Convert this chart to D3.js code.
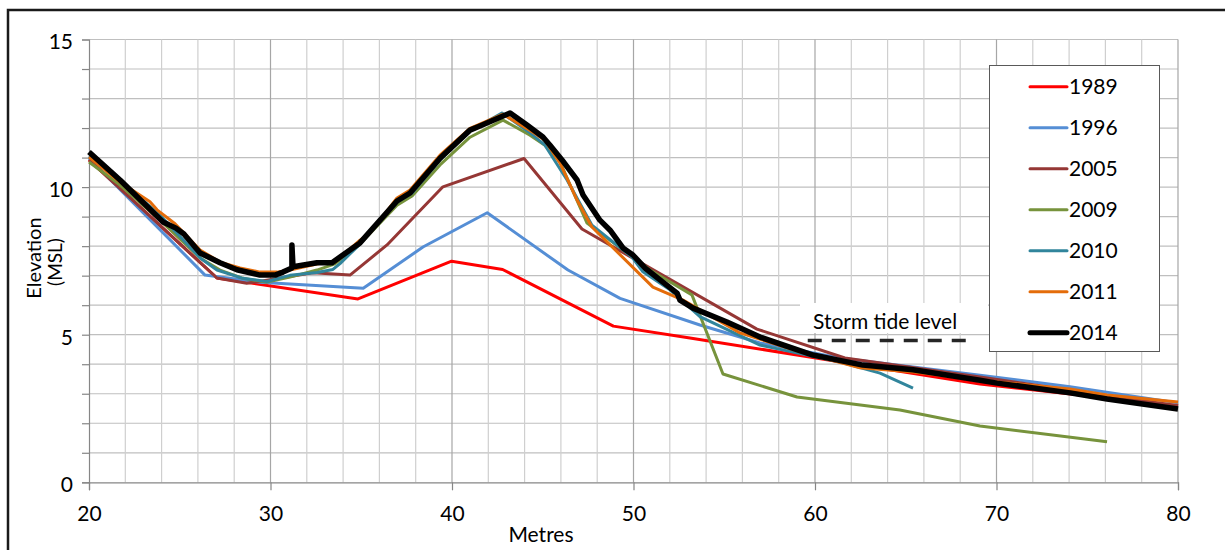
<!DOCTYPE html>
<html>
<head>
<meta charset="utf-8">
<script src="https://cdn.jsdelivr.net/npm/d3@7"></script>
<style>
  body { margin: 0; background: #fff; }
  svg { display: block; font-family: Lato, "Open Sans", sans-serif; }
</style>
</head>
<body>
<svg id="chart" width="1225" height="550"></svg>
<script>
"use strict"

// profile surveys, [metres, elevation]
const p1989 = [[20, 10.92], [27.05, 6.92], [34.82, 6.21], [39.98, 7.49], [42.79, 7.21], [48.89, 5.29],
    [53.11, 4.89], [69.09, 3.33], [80, 2.59]];

const p1996 = [[20, 10.98], [26.39, 7.02], [29.42, 6.78], [35.11, 6.57], [38.40, 7.97], [41.94, 9.13],
    [46.39, 7.19], [49.26, 6.23], [53.66, 5.33], [56.97, 4.72], [61.38, 4.21], [69.09, 3.63],
    [74.05, 3.24], [80, 2.69]];

const p2005 = [[20, 10.92], [27.05, 6.92], [28.69, 6.74], [32.34, 7.10], [34.38, 7.02], [36.42, 8.04],
    [39.50, 10.01], [43.97, 10.97], [47.16, 8.58], [56.80, 5.19], [61.65, 4.21], [69.09, 3.57], [80, 2.59]];

const p2009 = [[20, 10.85], [21.71, 10.07], [23.91, 8.88], [26.12, 7.60], [27.22, 7.19], [28.48, 6.91],
    [29.81, 6.78], [31.07, 6.95], [32.56, 7.19], [33.55, 7.40], [34.93, 8.07], [36.97, 9.39],
    [37.80, 9.70], [39.34, 10.75], [40.99, 11.69], [42.81, 12.27], [44.30, 11.76], [45.12, 11.42],
    [45.95, 10.85], [47.05, 9.32], [47.44, 8.78], [50.91, 7.19], [53.22, 6.35], [54.93, 3.67],
    [59.01, 2.89], [64.68, 2.45], [69.09, 1.91], [76.09, 1.37]];

const p2010 = [[20, 11.05], [21.71, 10.24], [23.91, 9.05], [26.12, 7.60], [27.05, 7.19], [28.48, 6.91],
    [29.81, 6.80], [31.07, 7.01], [32.56, 7.11], [33.44, 7.21], [33.83, 7.41], [34.93, 8.07],
    [36.97, 9.49], [37.80, 9.80], [39.34, 10.92], [40.99, 11.90], [42.75, 12.51], [44.30, 11.84],
    [45.12, 11.42], [46.34, 10.24], [47.71, 8.71], [49.92, 7.63], [50.52, 7.13], [52.01, 6.52],
    [53.66, 5.61], [56.97, 4.65], [61.38, 4.07], [63.58, 3.70], [65.40, 3.19]];

const p2011 = [[20, 11.02], [21.71, 10.17], [23.36, 9.50], [23.75, 9.23], [24.74, 8.76], [26.12, 7.87],
    [27.22, 7.46], [28.32, 7.26], [29.42, 7.12], [30.36, 7.12], [31.07, 7.19], [32.73, 7.42],
    [33.55, 7.46], [34.93, 8.20], [35.48, 8.44], [36.97, 9.63], [37.69, 9.90], [39.34, 11.08],
    [40.99, 11.99], [42.81, 12.47], [44.46, 11.86], [45.12, 11.59], [45.95, 10.81], [46.89, 9.56],
    [47.71, 8.65], [51.07, 6.61], [52.73, 6.17], [55.87, 5.06], [59.17, 4.42], [62.48, 3.88],
    [65.40, 3.74], [70.03, 3.40], [74.05, 3.16], [76.09, 2.96], [80, 2.72]];

const p2014 = [[20, 11.19], [21.71, 10.24], [24.08, 8.82], [24.79, 8.61], [25.23, 8.41], [26.12, 7.77],
    [27.22, 7.44], [28.15, 7.20], [29.42, 7.02], [30.25, 7.02], [30.69, 7.12], [31.18, 7.26],
    [31.18, 8.04], [31.24, 7.30], [32.56, 7.44], [33.39, 7.44], [34.93, 8.11], [36.97, 9.53],
    [37.69, 9.80], [39.34, 10.98], [40.99, 11.93], [41.54, 12.07], [43.20, 12.51], [44.13, 12.10],
    [45.01, 11.70], [45.40, 11.42], [46.06, 10.92], [46.89, 10.24], [47.22, 9.73], [48.15, 8.88],
    [48.71, 8.54], [49.42, 7.94], [49.97, 7.70], [50.63, 7.26], [51.46, 6.86], [52.40, 6.41],
    [52.56, 6.17], [53.28, 5.90], [55.15, 5.43], [56.97, 4.92], [59.89, 4.31], [62.64, 3.97],
    [65.40, 3.81], [69.09, 3.46], [70.03, 3.36], [74.05, 3.03], [76.09, 2.82], [80, 2.48]];

const years = ["1989", "1996", "2005", "2009", "2010", "2011", "2014"];
const profiles = [p1989, p1996, p2005, p2009, p2010, p2011, p2014];
const colours = ["#FF0000", "#558ED5", "#953735", "#77933C", "#31859C", "#E46C0A", "#000000"];

const xTicks = [20, 30, 40, 50, 60, 70, 80];
const yTicks = [0, 5, 10, 15];
const stormTide = 4.8;
const stormTideRange = [59.6, 68.5];

const svg = d3.select("#chart");

const x = d3.scaleLinear().domain([20, 80]).range([89, 1178]);
const y = d3.scaleLinear().domain([0, 15]).range([482.3, 39.5]);

// outer frame
svg.append("rect")
    .attr("x", 8).attr("y", 10)
    .attr("width", 1240).attr("height", 560)
    .attr("fill", "none")
    .attr("stroke", "#1a1a1a")
    .attr("stroke-width", 2.5);

// grid
const grid = svg.append("g");
grid.selectAll(".hgrid")
    .data(d3.range(1, 16))
    .join("line")
    .attr("x1", x(20)).attr("x2", x(80))
    .attr("y1", d => y(d)).attr("y2", d => y(d))
    .attr("stroke", "#BFBFBF").attr("stroke-width", 1.2);

grid.selectAll(".vgrid")
    .data(d3.range(22, 81, 2))
    .join("line")
    .attr("x1", d => x(d)).attr("x2", d => x(d))
    .attr("y1", y(15)).attr("y2", y(0))
    .attr("stroke", d => d % 10 == 0 ? "#A6A6A6" : "#CFCFCF")
    .attr("stroke-width", 1.2);

// axes
const yAxis = d3.axisLeft(y).tickValues(d3.range(0, 16)).tickSize(7).tickFormat(d => yTicks.includes(d) ? d : "");
const xAxis = d3.axisBottom(x).tickValues(xTicks).tickSize(8).tickFormat(d => d);

const gy = svg.append("g").attr("transform", `translate(${x(20)},0)`).call(yAxis);
const gx = svg.append("g").attr("transform", `translate(0,${y(0)})`).call(xAxis);

[gx, gy].forEach(g => {
    g.select(".domain").attr("stroke", "#868686").attr("stroke-width", 1.2);
    g.selectAll(".tick line").attr("stroke", "#868686").attr("stroke-width", 1.2);
    g.selectAll("text")
        .attr("fill", "#000")
        .style("font-family", "Lato, sans-serif")
        .style("font-size", "21px");
});
gy.selectAll("text").attr("x", -16).attr("dy", "0.45em");
gx.selectAll("text").attr("y", 24);

// axis titles
svg.append("text")
    .attr("transform", "translate(41,258) rotate(-90)")
    .attr("text-anchor", "middle")
    .style("font-size", "20px")
    .text("Elevation");
svg.append("text")
    .attr("transform", "translate(62,262) rotate(-90)")
    .attr("text-anchor", "middle")
    .style("font-size", "19px")
    .text("(MSL)");
svg.append("text")
    .attr("x", 541).attr("y", 542)
    .attr("text-anchor", "middle")
    .style("font-size", "21px")
    .text("Metres");

// storm tide label box
svg.append("rect")
    .attr("x", 800).attr("y", 303)
    .attr("width", 188).attr("height", 30)
    .attr("fill", "#fff");
svg.append("text")
    .attr("x", 813).attr("y", 329)
    .style("font-size", "21px")
    .text("Storm tide level");

// profiles
const line = d3.line().x(d => x(d[0])).y(d => y(d[1]));

svg.append("g")
    .selectAll("path")
    .data(profiles)
    .join("path")
    .attr("d", line)
    .attr("fill", "none")
    .attr("stroke", (d, i) => colours[i])
    .attr("stroke-width", (d, i) => years[i] == "2014" ? 5.5 : 3)
    .attr("stroke-linejoin", "round");

svg.append("line")
    .attr("x1", x(stormTideRange[0])).attr("x2", x(stormTideRange[1]))
    .attr("y1", y(stormTide)).attr("y2", y(stormTide))
    .attr("stroke", "#262626")
    .attr("stroke-width", 3.5)
    .attr("stroke-dasharray", "14 10");

// legend
const legend = svg.append("g");
legend.append("rect")
    .attr("x", 989.5).attr("y", 65.5)
    .attr("width", 170).attr("height", 286)
    .attr("fill", "#fff")
    .attr("stroke", "#595959")
    .attr("stroke-width", 1);

const rows = legend.selectAll(".row")
    .data(years)
    .join("g")
    .attr("transform", (d, i) => `translate(0,${86.7 + i * 41})`);

rows.append("line")
    .attr("x1", 1030).attr("x2", 1067)
    .attr("stroke", (d, i) => colours[i])
    .attr("stroke-width", d => d == "2014" ? 5 : 3)
    .attr("stroke-linecap", "round");

rows.append("text")
    .attr("x", 1069).attr("y", 7.5)
    .style("font-size", "21px")
    .text(d => d);
</script>
</body>
</html>
